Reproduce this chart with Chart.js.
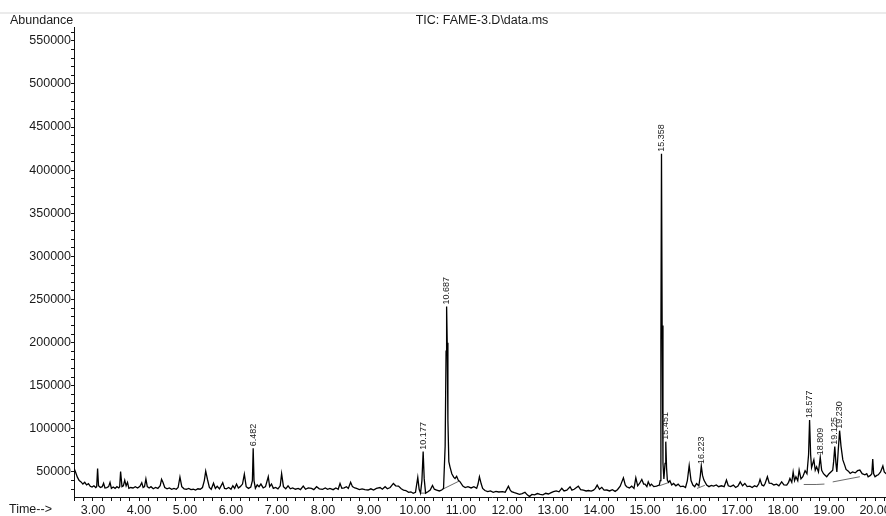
<!DOCTYPE html>
<html>
<head>
<meta charset="utf-8">
<script src="https://cdn.jsdelivr.net/npm/chart.js@4.4.1/dist/chart.umd.min.js"></script>
<style>
  html, body { margin: 0; padding: 0; background: #fff; overflow: hidden; }
  #wrap { width: 886px; height: 516px; overflow: hidden; position: relative; }
</style>
</head>
<body>
<div id="wrap"><canvas id="tic" width="910" height="516"></canvas></div>
<script>
// TIC trace (time in min, abundance)
const casy = [
  2.59, 2.62, 2.66, 2.70, 2.74, 2.78, 2.82, 2.86, 2.90, 2.94, 2.98, 3.02, 3.06, 3.08, 3.10, 3.12, 3.16, 3.20, 3.23, 3.26,
  3.30, 3.34, 3.37, 3.40, 3.44, 3.48, 3.52, 3.56, 3.58, 3.60, 3.63, 3.66, 3.69, 3.72, 3.75, 3.78, 3.82, 3.87, 3.92, 3.97,
  4.02, 4.06, 4.09, 4.12, 4.15, 4.18, 4.22, 4.26, 4.31, 4.36, 4.41, 4.46, 4.49, 4.52, 4.56, 4.61, 4.66, 4.71, 4.76, 4.81,
  4.85, 4.89, 4.93, 4.98, 5.03, 5.08, 5.13, 5.18, 5.23, 5.28, 5.33, 5.38, 5.42, 5.45, 5.49, 5.53, 5.57, 5.62, 5.66, 5.70,
  5.75, 5.82, 5.86, 5.90, 5.95, 6.00, 6.04, 6.08, 6.12, 6.16, 6.20, 6.25, 6.29, 6.33, 6.38, 6.43, 6.465, 6.482, 6.50, 6.53,
  6.57, 6.61, 6.65, 6.70, 6.75, 6.81, 6.84, 6.88, 6.92, 6.97, 7.02, 7.07, 7.10, 7.14, 7.19, 7.24, 7.29, 7.34, 7.40, 7.46,
  7.51, 7.57, 7.62, 7.68, 7.75, 7.80, 7.86, 7.92, 7.99, 8.05, 8.10, 8.15, 8.22, 8.28, 8.33, 8.37, 8.41, 8.46, 8.51, 8.55,
  8.60, 8.64, 8.69, 8.73, 8.79, 8.85, 8.91, 8.98, 9.04, 9.10, 9.16, 9.24, 9.29, 9.35, 9.40, 9.46, 9.53, 9.58, 9.64, 9.70,
  9.75, 9.80, 9.86, 9.91, 9.96, 10.01, 10.06, 10.09, 10.12, 10.15, 10.177, 10.20, 10.23, 10.28, 10.33, 10.38, 10.42, 10.47, 10.53, 10.58,
  10.62, 10.655, 10.675, 10.687, 10.70, 10.715, 10.735, 10.76, 10.80, 10.84, 10.87, 10.905, 10.94, 10.98, 11.04, 11.09, 11.15, 11.22, 11.28, 11.34,
  11.37, 11.40, 11.44, 11.47, 11.52, 11.58, 11.64, 11.70, 11.76, 11.82, 11.90, 11.96, 12.03, 12.07, 12.10, 12.16, 12.21, 12.27, 12.33, 12.39,
  12.44, 12.49, 12.54, 12.60, 12.66, 12.72, 12.78, 12.84, 12.90, 12.96, 13.01, 13.07, 13.13, 13.19, 13.24, 13.30, 13.37, 13.41, 13.46, 13.51,
  13.55, 13.60, 13.66, 13.72, 13.77, 13.83, 13.88, 13.92, 13.96, 14.01, 14.06, 14.11, 14.17, 14.23, 14.29, 14.35, 14.40, 14.46, 14.53, 14.57,
  14.60, 14.66, 14.71, 14.76, 14.80, 14.84, 14.88, 14.93, 14.97, 15.00, 15.04, 15.07, 15.11, 15.14, 15.19, 15.25, 15.31, 15.33, 15.345, 15.358,
  15.372, 15.39, 15.41, 15.435, 15.451, 15.468, 15.485, 15.51, 15.54, 15.58, 15.62, 15.67, 15.72, 15.77, 15.83, 15.88, 15.92, 15.96, 16.00, 16.04,
  16.08, 16.12, 16.17, 16.20, 16.223, 16.25, 16.28, 16.34, 16.39, 16.44, 16.49, 16.55, 16.60, 16.66, 16.72, 16.77, 16.81, 16.86, 16.92, 16.97,
  17.02, 17.07, 17.12, 17.17, 17.22, 17.28, 17.33, 17.38, 17.43, 17.47, 17.50, 17.54, 17.58, 17.61, 17.66, 17.70, 17.75, 17.80, 17.86, 17.91,
  17.97, 18.02, 18.08, 18.12, 18.15, 18.19, 18.22, 18.25, 18.28, 18.32, 18.35, 18.39, 18.43, 18.48, 18.52, 18.555, 18.577, 18.60, 18.62, 18.67,
  18.70, 18.73, 18.77, 18.809, 18.84, 18.88, 18.92, 18.95, 19.00, 19.04, 19.08, 19.10, 19.125, 19.15, 19.17, 19.20, 19.23, 19.26, 19.30, 19.34,
  19.37, 19.42, 19.46, 19.51, 19.57, 19.62, 19.67, 19.72, 19.78, 19.82, 19.85, 19.90, 19.93, 19.95, 19.97, 20.00, 20.04, 20.07, 20.12, 20.17,
  20.20, 20.24, 20.30
];
const abundance = [
  54000, 50000, 44000, 40000, 38500, 36000, 38000, 35000, 36500, 33500, 32500, 34000, 32000, 33000, 54000, 34000, 32000, 33000, 37000, 31500,
  32000, 33000, 38000, 31000, 32500, 31000, 33000, 31500, 33000, 50500, 33000, 34000, 40500, 34000, 38000, 31000, 32000, 31500, 33000, 31500,
  33500, 37500, 32000, 33000, 42000, 33000, 31500, 33000, 30500, 32000, 31000, 34000, 41500, 38000, 32000, 30500, 31500, 30000, 31000, 30000,
  32000, 44000, 33000, 30500, 30000, 31000, 29500, 30000, 29000, 30500, 30000, 32000, 40000, 51000, 41000, 32000, 30000, 37000, 31000, 33500,
  30500, 37500, 31000, 30500, 32000, 30000, 34000, 31000, 36000, 31500, 33000, 36000, 47500, 33000, 31000, 32500, 40000, 77500, 40000, 31000,
  35000, 33000, 36000, 31500, 33000, 44500, 33000, 36000, 31000, 32000, 30500, 34000, 48000, 33000, 30500, 34000, 30500, 31500, 30000, 31000,
  29500, 33600, 30000, 31500, 31000, 29500, 32900, 30500, 29900, 31500, 30000, 31000, 29500, 31500, 30000, 36700, 31000, 31500, 32900, 31000,
  38200, 33000, 31500, 31000, 29500, 30500, 29500, 29100, 30500, 29000, 31000, 32000, 30000, 32900, 30500, 32000, 36700, 34000, 33600, 30500,
  29100, 28500, 26400, 27000, 25300, 26500, 43700, 30000, 25500, 40000, 73600, 42000, 25500, 27000, 29100, 34400, 30000, 29100, 28000, 29100,
  31000, 80000, 190000, 242000, 200000, 110000, 62000, 56000, 48000, 44000, 42500, 45000, 40500, 38600, 33600, 32000, 33000, 31500, 32900, 31000,
  36000, 44500, 36000, 31000, 28500, 27200, 28000, 26500, 27500, 26800, 27200, 26500, 33600, 29000, 27200, 26000, 25300, 24000, 25000, 26500,
  23500, 21500, 24000, 23400, 25000, 24000, 23500, 25300, 24500, 26000, 27200, 28000, 27000, 31000, 28000, 29000, 32900, 29000, 30000, 32000,
  33600, 29500, 29100, 28000, 28500, 27800, 29000, 31000, 34800, 30000, 32200, 29000, 29100, 28000, 29500, 27500, 29500, 33600, 43300, 35000,
  32900, 31500, 33600, 31000, 43300, 34000, 36700, 41400, 36000, 35900, 33000, 38600, 34000, 35900, 33000, 33600, 34800, 40000, 200000, 419000,
  220000, 60000, 42000, 60000, 85200, 55000, 40600, 38000, 39800, 35000, 36700, 34000, 35900, 33000, 33600, 32000, 40000, 57500, 40000, 34800,
  33000, 36700, 34000, 45000, 57000, 46000, 40600, 34800, 33000, 34500, 33600, 35000, 32900, 34000, 33000, 40600, 34000, 33000, 34800, 32000,
  33600, 38600, 34000, 36700, 33000, 33600, 32000, 34000, 32900, 36000, 41400, 35000, 34000, 36700, 44500, 37000, 36700, 35000, 35900, 34000,
  38600, 35000, 34800, 38000, 42500, 38000, 50000, 40000, 44500, 40000, 52200, 42000, 44500, 51500, 48000, 70000, 110300, 70000, 55000, 64000,
  52000, 56000, 50000, 67000, 52000, 48000, 46000, 44500, 48000, 50000, 52000, 62000, 79400, 60000, 50000, 75000, 97900, 80000, 64000, 58000,
  53000, 51000, 48300, 50000, 49000, 51500, 52200, 48000, 46700, 48000, 44500, 46000, 48000, 65000, 48000, 44500, 46000, 46700, 50000, 57000,
  50000, 48000, 47000
];

// Integrační základní linie pod píky
const zakladStartT = [10.11, 10.62, 15.31, 16.13, 18.45, 18.72, 19.08];
const zakladStartV = [25500, 30500, 34000, 31000, 35500, 35500, 38500];
const zakladKonecT = [10.24, 10.96, 15.50, 16.30, 18.72, 18.90, 19.67];
const zakladKonecV = [25500, 39500, 37500, 34500, 35500, 36000, 44500];

// Popisky píků (retenční časy)
const pikyCas = [6.482, 10.177, 10.687, 15.358, 15.451, 16.223, 18.577, 18.809, 19.125, 19.230];

// Osy
const xMin = 2.587, xMax = 20.76;
const yMin = 21000, yMax = 566000;

const FONT = "'Liberation Sans', Arial, sans-serif";

const body = casy.map((t, i) => ({ x: t, y: abundance[i] }));
let zaklad = [];
zakladStartT.forEach((t, i) => {
  zaklad.push({ x: t, y: zakladStartV[i] });
  zaklad.push({ x: zakladKonecT[i], y: zakladKonecV[i] });
  zaklad.push({ x: zakladKonecT[i] + 0.001, y: null });
});

// Texty kolem grafu + popisky píků
const popiskyPlugin = {
  id: 'popisky',
  afterDatasetsDraw(chart) {
    const ctx = chart.ctx;
    const xs = chart.scales.x, ys = chart.scales.y;
    ctx.save();
    // tenká šedá linka nahoře
    ctx.strokeStyle = '#ebebeb';
    ctx.lineWidth = 2;
    ctx.beginPath();
    ctx.moveTo(0, 13);
    ctx.lineTo(chart.width, 13);
    ctx.stroke();

    ctx.fillStyle = '#1a1a1a';
    ctx.font = '12.5px ' + FONT;
    ctx.textBaseline = 'middle';
    ctx.textAlign = 'left';
    ctx.fillText('Abundance', 10, 21);
    ctx.fillText('Time-->', 9, 510);
    ctx.textAlign = 'center';
    ctx.fillText('TIC: FAME-3.D\\data.ms', 482, 21);

    // popisky píků
    ctx.font = '9px ' + FONT;
    ctx.fillStyle = '#222';
    pikyCas.forEach(t => {
      let idx = 0, best = 1e9;
      casy.forEach((c, i) => { if (Math.abs(c - t) < best) { best = Math.abs(c - t); idx = i; } });
      const px = xs.getPixelForValue(t);
      const py = ys.getPixelForValue(abundance[idx]);
      ctx.save();
      ctx.translate(px, py - 2);
      ctx.rotate(-Math.PI / 2);
      ctx.textAlign = 'left';
      ctx.textBaseline = 'middle';
      ctx.fillText(t.toFixed(3), 0, 0);
      ctx.restore();
    });
    ctx.restore();
  }
};

new Chart(document.getElementById('tic').getContext('2d'), {
  type: 'line',
  data: {
    datasets: [{
      label: 'TIC',
      data: body,
      borderColor: '#000',
      borderWidth: 1.3,
      pointRadius: 0,
      tension: 0,
      fill: false
    }, {
      label: 'základ',
      data: zaklad,
      borderColor: '#444',
      borderWidth: 0.8,
      pointRadius: 0,
      tension: 0,
      spanGaps: false,
      fill: false
    }]
  },
  options: {
    responsive: false,
    animation: false,
    devicePixelRatio: 1,
    layout: { padding: { top: 27, left: 0, right: 0, bottom: 0 } },
    plugins: { legend: { display: false }, tooltip: { enabled: false } },
    scales: {
      x: {
        type: 'linear',
        min: xMin,
        max: xMax,
        afterBuildTicks(scale) {
          let t = [];
          for (let i = 13; i <= 103; i++) t.push({ value: i / 5 });
          scale.ticks = t;
        },
        afterFit(scale) { scale.height = 19; },
        grid: { drawOnChartArea: false, drawTicks: true, tickLength: 4, color: '#111', tickWidth: 1 },
        border: { display: true, color: '#111', width: 1 },
        ticks: {
          autoSkip: false,
          maxRotation: 0,
          padding: 2,
          color: '#1a1a1a',
          font: { family: FONT, size: 12.5 },
          callback: v => (Math.abs(v - Math.round(v)) < 1e-6 ? v.toFixed(2) : '')
        }
      },
      y: {
        type: 'linear',
        min: yMin,
        max: yMax,
        afterBuildTicks(scale) {
          let t = [];
          for (let v = 30000; v <= 560000; v += 10000) t.push({ value: v });
          scale.ticks = t;
        },
        afterFit(scale) { scale.width = 74; },
        grid: { drawOnChartArea: false, drawTicks: true, tickLength: 3, color: '#111', tickWidth: 1 },
        border: { display: true, color: '#111', width: 1 },
        ticks: {
          autoSkip: false,
          padding: 0,
          color: '#1a1a1a',
          font: { family: FONT, size: 12.5 },
          callback: v => (v % 50000 === 0 ? String(v) : '')
        }
      }
    }
  },
  plugins: [popiskyPlugin]
});
</script>
</body>
</html>
